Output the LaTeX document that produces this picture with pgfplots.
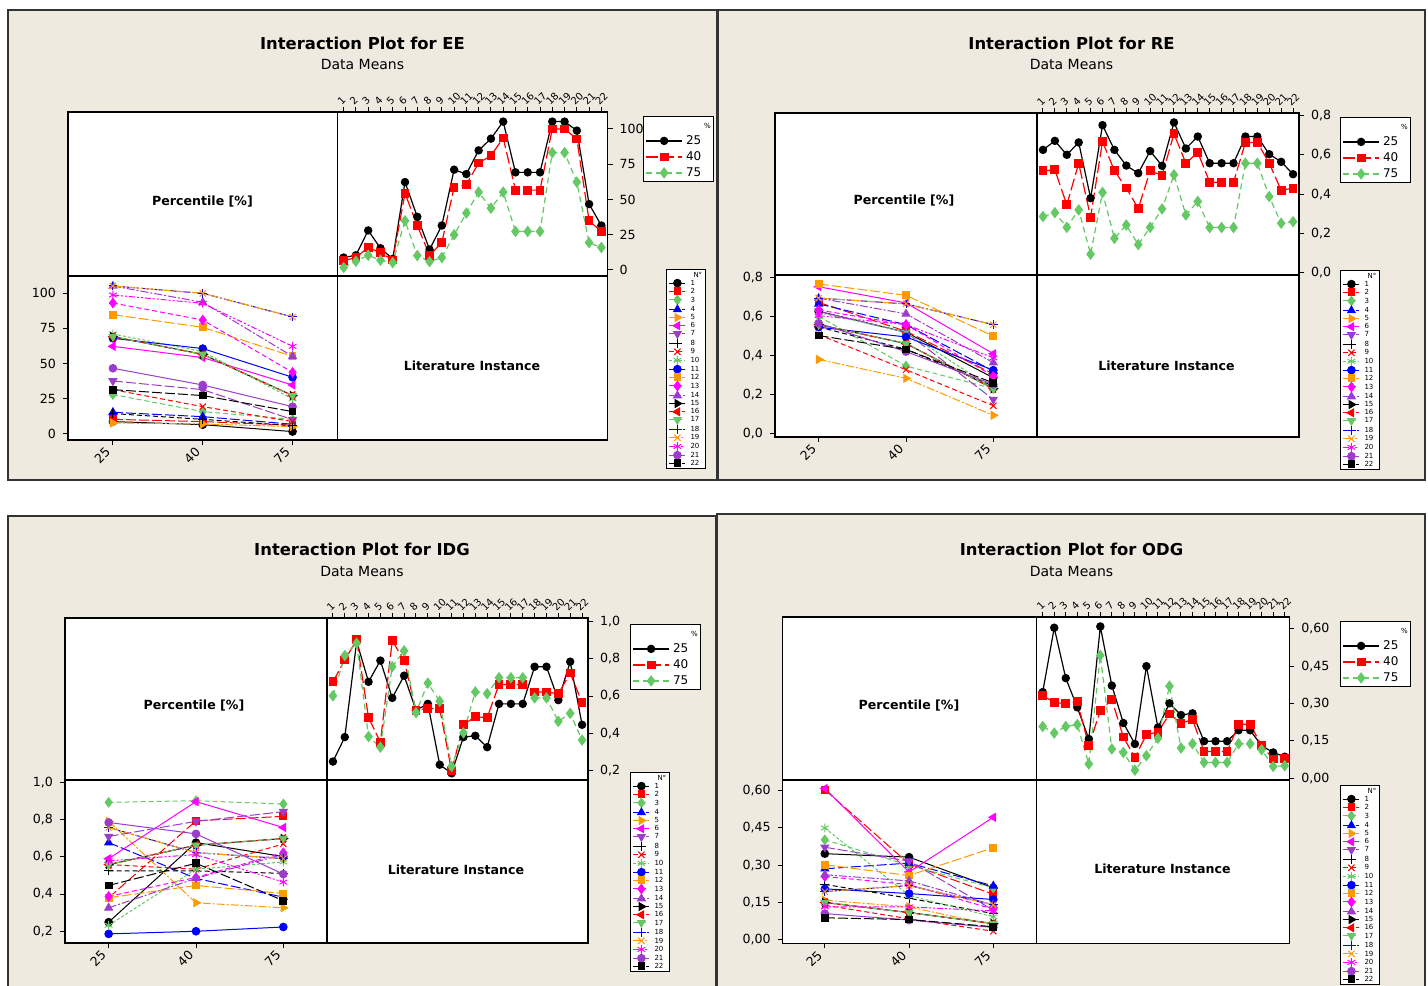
\documentclass[border=0pt]{standalone}
\usepackage{fontspec}
\setmainfont{DejaVu Sans}
\usepackage{pgfplots}
\usepackage{pgfplotstable}
\pgfplotsset{compat=1.18}

\definecolor{panelbg}{RGB}{238,234,224}
\definecolor{cred}{RGB}{255,0,0}
\definecolor{cgreen}{RGB}{100,200,100}
\definecolor{cblue}{RGB}{0,0,255}
\definecolor{corange}{RGB}{255,153,0}
\definecolor{cmag}{RGB}{255,0,255}
\definecolor{cpurp}{RGB}{155,60,205}

% ---------------- data (means per literature instance and percentile) ----------
\pgfplotstableread{
inst p25 p40 p75
1 8.8 6.6 1.7
2 10.4 8.8 6.2
3 28.0 15.9 10.4
4 15.4 12.3 6.9
5 7.8 7.1 5.2
6 62.3 54.3 34.8
7 37.7 31.5 10.2
8 14.5 10.4 5.9
9 31.5 19.4 8.8
10 71.1 58.5 24.9
11 68.0 60.7 40.3
12 84.8 75.8 55.2
13 93.1 81.0 43.8
14 105.2 93.6 55.2
15 69.2 56.6 27.3
16 69.2 56.6 27.3
17 69.2 56.6 27.3
18 105.2 100.0 83.2
19 105.2 100.0 83.2
20 98.8 92.9 62.3
21 46.7 34.8 19.4
22 31.5 27.3 15.9
}\EE

\pgfplotstableread{
inst p25 p40 p75
1 0.626 0.519 0.286
2 0.672 0.524 0.306
3 0.601 0.346 0.231
4 0.664 0.558 0.320
5 0.380 0.283 0.094
6 0.752 0.669 0.409
7 0.626 0.519 0.175
8 0.546 0.432 0.243
9 0.507 0.327 0.143
10 0.620 0.519 0.231
11 0.545 0.495 0.325
12 0.766 0.708 0.499
13 0.633 0.558 0.294
14 0.694 0.613 0.363
15 0.558 0.461 0.230
16 0.558 0.461 0.230
17 0.558 0.461 0.230
18 0.694 0.664 0.558
19 0.694 0.664 0.558
20 0.604 0.558 0.388
21 0.565 0.420 0.252
22 0.502 0.431 0.260
}\RE

\pgfplotstableread{
inst p25 p40 p75
1 0.249 0.676 0.601
2 0.380 0.793 0.817
3 0.892 0.901 0.883
4 0.676 0.484 0.383
5 0.790 0.353 0.326
6 0.590 0.896 0.757
7 0.709 0.790 0.842
8 0.524 0.524 0.511
9 0.558 0.533 0.669
10 0.232 0.533 0.572
11 0.186 0.200 0.223
12 0.380 0.446 0.403
13 0.387 0.489 0.622
14 0.326 0.484 0.613
15 0.558 0.662 0.698
16 0.558 0.662 0.698
17 0.558 0.662 0.698
18 0.757 0.622 0.590
19 0.757 0.622 0.590
20 0.578 0.612 0.464
21 0.784 0.723 0.507
22 0.446 0.565 0.364
}\IDG

\pgfplotstableread{
inst p25 p40 p75
1 0.346 0.332 0.208
2 0.604 0.305 0.182
3 0.402 0.299 0.208
4 0.285 0.308 0.216
5 0.158 0.131 0.058
6 0.609 0.272 0.493
7 0.372 0.316 0.118
8 0.222 0.166 0.104
9 0.138 0.083 0.033
10 0.450 0.177 0.091
11 0.204 0.185 0.161
12 0.301 0.258 0.370
13 0.254 0.221 0.122
14 0.261 0.236 0.139
15 0.149 0.108 0.064
16 0.149 0.108 0.064
17 0.149 0.108 0.064
18 0.193 0.217 0.139
19 0.193 0.217 0.139
20 0.131 0.131 0.115
21 0.104 0.078 0.048
22 0.087 0.080 0.051
}\ODG

\pgfplotstabletranspose[colnames from=inst]{\EEt}{\EE}
\pgfplotstabletranspose[colnames from=inst]{\REt}{\RE}
\pgfplotstabletranspose[colnames from=inst]{\IDGt}{\IDG}
\pgfplotstabletranspose[colnames from=inst]{\ODGt}{\ODG}

\tikzset{
  titlef/.style={font=\fontsize{8.2}{9}\selectfont\bfseries},
  subf/.style={font=\fontsize{7}{8}\selectfont},
  boxf/.style={font=\fontsize{6.3}{7}\selectfont\bfseries},
}

\pgfplotsset{
  base/.style={scale only axis, axis background/.style={fill=white},
    axis line style={line width=0.6pt}, tick style={black, line width=0.5pt},
    tick align=outside, major tick length=2.5pt,
    /pgf/number format/assume math mode=true,
    tick label style={font=\fontsize{6.3}{7}\selectfont},
    /tikz/every mark/.append style={solid}},
  tr/.style={base, xmin=0.5, xmax=22.5, xtick={1,...,22},
    xtick pos=right, xticklabel pos=right, ytick pos=right, yticklabel pos=right,
    x tick label style={rotate=45, anchor=south west, inner sep=0.8pt, xshift=-1.2pt, font=\fontsize{5}{6}\selectfont},
    legend style={at={(1,1)}, anchor=north west, draw=black, line width=0.5pt, fill=white,
      font=\fontsize{6}{7}\selectfont, row sep=1.6pt, inner xsep=1pt, inner ysep=1pt,
      nodes={inner sep=0.5pt, text height=4.4pt, text depth=1pt},
      /tikz/every odd column/.append style={column sep=1.2pt}},
    legend cell align=left,
    legend image code/.code={\draw[mark repeat=2,mark phase=2,##1] plot coordinates {(0pt,0pt)(9pt,0pt)(18pt,0pt)};}},
  bl/.style={base, xmin=0.5, xmax=3.5, xtick={1,2,3}, xticklabels={25,40,75},
    xtick pos=left, ytick pos=left,
    x tick label style={rotate=45, anchor=east},
    every axis plot/.append style={line width=0.5pt, mark size=1.9pt},
    legend style={at={(1,1)}, anchor=north west, draw=black, line width=0.5pt, fill=white,
      font=\fontsize{3.5}{4}\selectfont, row sep=0.3pt, inner xsep=1.2pt, inner ysep=1pt,
      nodes={inner sep=0.3pt, text height=2.6pt, text depth=0.4pt},
      /tikz/every odd column/.append style={column sep=2pt}},
    legend cell align=left,
    legend image code/.code={\draw[mark repeat=2,mark phase=2,##1] plot coordinates {(0pt,0pt)(4pt,0pt)(8pt,0pt)};}},
  p25/.style={black, solid, line width=0.6pt, mark=*, mark size=1.8pt},
  p40/.style={cred, dash pattern=on 6pt off 2pt, line width=0.6pt, mark=square*, mark size=1.9pt},
  p75/.style={cgreen, dash pattern=on 3pt off 2pt, line width=0.6pt, mark=diamond*, mark size=2.4pt},
  ser1/.style={black, solid, mark=*},
  ser2/.style={cred, dash pattern=on 5pt off 1.5pt, mark=square*, mark size=1.7pt},
  ser3/.style={cgreen, dash pattern=on 2.5pt off 1.5pt, mark=diamond*, mark size=2.3pt},
  ser4/.style={cblue, dash pattern=on 5pt off 1.5pt, mark=triangle*, mark size=2.2pt},
  ser5/.style={corange, dash pattern=on 4pt off 1pt on 1pt off 1pt, mark=triangle*, mark size=2.2pt, /tikz/every mark/.append style={rotate=-90}},
  ser6/.style={cmag, solid, mark=triangle*, mark size=2.2pt, /tikz/every mark/.append style={rotate=90}},
  ser7/.style={cpurp, dash pattern=on 5pt off 1.5pt, mark=triangle*, mark size=2.2pt, /tikz/every mark/.append style={rotate=180}},
  ser8/.style={black, dash pattern=on 2.5pt off 1.5pt, mark=+, mark size=2.2pt},
  ser9/.style={cred, dash pattern=on 2.5pt off 1.5pt, mark=x, mark size=2.2pt},
  ser10/.style={cgreen, dash pattern=on 1.5pt off 1pt, mark=asterisk, mark size=2.2pt},
  ser11/.style={cblue, solid, mark=*},
  ser12/.style={corange, dash pattern=on 5pt off 1.5pt, mark=square*, mark size=1.7pt},
  ser13/.style={cmag, dash pattern=on 2.5pt off 1.5pt, mark=diamond*, mark size=2.3pt},
  ser14/.style={cpurp, dash pattern=on 4pt off 1pt on 1pt off 1pt, mark=triangle*, mark size=2.2pt},
  ser15/.style={black, solid, mark=triangle*, mark size=2.2pt, /tikz/every mark/.append style={rotate=-90}},
  ser16/.style={cred, dash pattern=on 5pt off 1.5pt, mark=triangle*, mark size=2.2pt, /tikz/every mark/.append style={rotate=90}},
  ser17/.style={cgreen, dash pattern=on 2.5pt off 1.5pt, mark=triangle*, mark size=2.2pt, /tikz/every mark/.append style={rotate=180}},
  ser18/.style={cblue, dash pattern=on 4pt off 1pt on 1pt off 1pt, mark=+, mark size=2.2pt},
  ser19/.style={corange, dash pattern=on 5pt off 1pt on 1pt off 1pt, mark=x, mark size=2.2pt},
  ser20/.style={cmag, dash pattern=on 3pt off 1pt on 1pt off 1pt on 1pt off 1pt, mark=asterisk, mark size=2.2pt},
  ser21/.style={cpurp, solid, mark=*},
  ser22/.style={black, dash pattern=on 5pt off 1.5pt, mark=square*, mark size=1.7pt},
}

\newcommand\TRseries[1]{%
  \addlegendimage{empty legend}\addlegendentry{\hspace*{9pt}\fontsize{3.5}{4}\selectfont\%}%
  \addplot[p25] table[x=inst,y=p25]{#1}; \addlegendentry{25}%
  \addplot[p40] table[x=inst,y=p40]{#1}; \addlegendentry{40}%
  \addplot[p75] table[x=inst,y=p75]{#1}; \addlegendentry{75}%
}
\newcommand\BLseries[1]{%
  \addlegendimage{empty legend}\addlegendentry{\hspace*{1.5pt}N°}%
  \pgfplotsinvokeforeach{1,...,22}{\addplot[ser##1] table[x expr=\coordindex+1, y index=##1]{#1}; \addlegendentry{##1}}%
}

\begin{document}
\begin{tikzpicture}
\path[use as bounding box, fill=white] (0pt,0pt) rectangle (714pt,-492.5pt);

% ================= EE =================
\fill[panelbg] (4pt,-5pt) rectangle (358.5pt,-240pt);
\draw[black!80, line width=0.8pt] (4pt,-5pt) rectangle (358.5pt,-240pt);
\node[titlef] at (181.25pt,-21.5pt) {Interaction Plot for EE};
\node[subf] at (181.25pt,-32pt) {Data Means};
\draw[fill=white, line width=0.6pt] (34pt,-56pt) rectangle (168.75pt,-138pt);
\node[boxf] at (101.25pt,-101pt) {Percentile [\%]};
\draw[fill=white, line width=0.6pt] (168.75pt,-138pt) rectangle (303.75pt,-220pt);
\node[boxf] at (236pt,-183pt) {Literature Instance};
\begin{axis}[tr, at={(168.75pt,-56pt)}, anchor=north west, width=135pt, height=82pt,
  ymin=-4.3, ymax=112, ytick={0,25,50,75,100},
  legend style={xshift=17.75pt, yshift=-2pt}]
\TRseries{\EE}
\end{axis}
\begin{axis}[bl, at={(34pt,-138pt)}, anchor=north west, width=134.75pt, height=82pt,
  ymin=-4.3, ymax=112.3, ytick={0,25,50,75,100},
  legend style={xshift=164.25pt, yshift=3.5pt}]
\BLseries{\EEt}
\end{axis}

% ================= RE =================
\fill[panelbg] (359pt,-5pt) rectangle (712.5pt,-240pt);
\draw[black!80, line width=0.8pt] (359pt,-5pt) rectangle (712.5pt,-240pt);
\node[titlef] at (535.75pt,-21.5pt) {Interaction Plot for RE};
\node[subf] at (535.75pt,-32pt) {Data Means};
\draw[fill=white, line width=0.6pt] (387.5pt,-56.5pt) rectangle (518.5pt,-137.5pt);
\node[boxf] at (452pt,-100.5pt) {Percentile [\%]};
\draw[fill=white, line width=0.6pt] (518.5pt,-137.5pt) rectangle (649.5pt,-218.5pt);
\node[boxf] at (583.25pt,-183pt) {Literature Instance};
\begin{axis}[tr, at={(518.5pt,-56.5pt)}, anchor=north west, width=131pt, height=81pt,
  ymin=-0.012, ymax=0.814, ytick={0,0.2,0.4,0.6,0.8},
  yticklabel style={/pgf/number format/.cd, use comma, fixed, fixed zerofill, precision=1},
  legend style={xshift=20.5pt, yshift=-2pt}]
\TRseries{\RE}
\end{axis}
\begin{axis}[bl, at={(387.5pt,-137.5pt)}, anchor=north west, width=131pt, height=81pt,
  ymin=-0.017, ymax=0.812, ytick={0,0.2,0.4,0.6,0.8},
  yticklabel style={/pgf/number format/.cd, use comma, fixed, fixed zerofill, precision=1},
  legend style={xshift=151.5pt, yshift=2.5pt}]
\BLseries{\REt}
\end{axis}

% ================= IDG =================
\fill[panelbg] (4pt,-258pt) rectangle (358pt,-500pt);
\draw[black!80, line width=0.8pt] (4pt,-258pt) rectangle (358pt,-500pt);
\node[titlef] at (181pt,-274.5pt) {Interaction Plot for IDG};
\node[subf] at (181pt,-285.5pt) {Data Means};
\draw[fill=white, line width=0.6pt] (32.5pt,-309pt) rectangle (163.5pt,-390pt);
\node[boxf] at (97pt,-353pt) {Percentile [\%]};
\draw[fill=white, line width=0.6pt] (163.5pt,-390pt) rectangle (294pt,-471.5pt);
\node[boxf] at (228pt,-435pt) {Literature Instance};
\begin{axis}[tr, at={(163.5pt,-309pt)}, anchor=north west, width=130.5pt, height=81pt,
  ymin=0.15, ymax=1.018, ytick={0.2,0.4,0.6,0.8,1.0},
  yticklabel style={/pgf/number format/.cd, use comma, fixed, fixed zerofill, precision=1},
  legend style={xshift=21pt, yshift=-3pt}]
\TRseries{\IDG}
\end{axis}
\begin{axis}[bl, at={(32.5pt,-390pt)}, anchor=north west, width=131pt, height=81.5pt,
  ymin=0.137, ymax=1.012, ytick={0.2,0.4,0.6,0.8,1.0},
  yticklabel style={/pgf/number format/.cd, use comma, fixed, fixed zerofill, precision=1},
  legend style={xshift=151.5pt, yshift=4pt}]
\BLseries{\IDGt}
\end{axis}

% ================= ODG =================
\fill[panelbg] (358.5pt,-257pt) rectangle (712.5pt,-500pt);
\draw[black!80, line width=0.8pt] (358.5pt,-257pt) rectangle (712.5pt,-500pt);
\node[titlef] at (535.75pt,-274.5pt) {Interaction Plot for ODG};
\node[subf] at (535.75pt,-285.5pt) {Data Means};
\draw[fill=white, line width=0.6pt] (391.35pt,-308.5pt) rectangle (518.35pt,-390pt);
\node[boxf] at (454.5pt,-353pt) {Percentile [\%]};
\draw[fill=white, line width=0.6pt] (518.35pt,-390pt) rectangle (644.65pt,-471.65pt);
\node[boxf] at (581.25pt,-434.5pt) {Literature Instance};
\begin{axis}[tr, at={(518.35pt,-308.5pt)}, anchor=north west, width=126.3pt, height=81.5pt,
  xmin=0.48, xmax=22.4,
  ymin=-0.0064, ymax=0.647, ytick={0,0.15,0.3,0.45,0.6},
  yticklabel style={/pgf/number format/.cd, use comma, fixed, fixed zerofill, precision=2},
  legend style={xshift=25.35pt, yshift=-2pt}]
\TRseries{\ODG}
\end{axis}
\begin{axis}[bl, at={(391.35pt,-390pt)}, anchor=north west, width=127pt, height=81.65pt,
  xmax=3.515, ymin=-0.016, ymax=0.6435, ytick={0,0.15,0.3,0.45,0.6},
  yticklabel style={/pgf/number format/.cd, use comma, fixed, fixed zerofill, precision=2},
  legend style={xshift=151.65pt, yshift=-2.5pt}]
\BLseries{\ODGt}
\end{axis}
\end{tikzpicture}
\end{document}
